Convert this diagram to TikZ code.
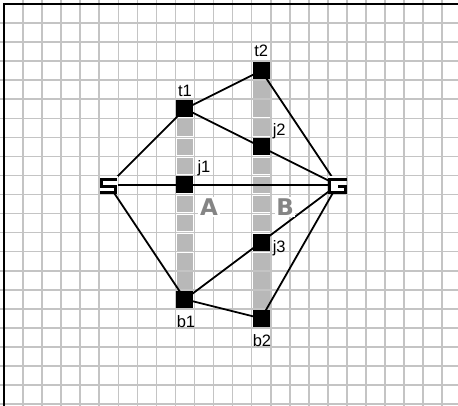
\documentclass[tikz,border=0pt]{standalone}
\usepackage{fontspec}
\setmainfont{Liberation Sans}
\newfontfamily\blockfont{DejaVu Sans}
\pgfdeclarelayer{bg}
\pgfsetlayers{bg,main}
\definecolor{gridgrey}{HTML}{C4C4C4}
\definecolor{cellgrey}{HTML}{B8B8B8}
\definecolor{lettergrey}{HTML}{858585}
\begin{document}
\begin{tikzpicture}[x=19.05pt,y=-19.05pt,
  gridline/.style={draw=gridgrey,line width=1.6pt},
  cellbox/.style={fill=cellgrey},
  junction/.style={rectangle,fill=black,inner sep=0pt,minimum size=17pt},
  endpoint/.style={rectangle,fill=white,inner sep=0pt,minimum size=18pt},
  glyph/.style={line width=3.2pt,line cap=butt,line join=miter},
  edge/.style={draw=black,line width=1.8pt},
  lbl/.style={font=\fontsize{16.5}{17}\selectfont,inner sep=0pt},
  region/.style={font=\blockfont\bfseries\fontsize{23}{23}\selectfont,inner sep=1.6pt,text=lettergrey,fill=white}]
\useasboundingbox (-0.21,-0.21) rectangle (23.83,21.10);

% nodes
\node[endpoint] (S) at (5.5,9.5) {};
\node[endpoint] (G) at (17.5,9.5) {};
\node[junction] (t1) at (9.5,5.5) {};
\node[junction] (j1) at (9.5,9.5) {};
\node[junction] (b1) at (9.5,15.5) {};
\node[junction] (t2) at (13.5,3.5) {};
\node[junction] (j2) at (13.5,7.5) {};
\node[junction] (j3) at (13.5,12.5) {};
\node[junction] (b2) at (13.5,16.5) {};

% glyphs S and G
\begin{scope}[shift={(S.center)},x=1pt,y=-1pt]
  \draw[glyph] (8.6,-5.4) -- (-7.0,-5.4) -- (-7.0,1.3) -- (6.8,1.3) -- (6.8,7.8) -- (-8.6,7.8);
\end{scope}
\begin{scope}[shift={(G.center)},x=1pt,y=-1pt]
  \draw[glyph] (9.9,-5.4) -- (-8.1,-5.4) -- (-8.1,7.8) -- (8.3,7.8) -- (8.3,1.3) -- (0.6,1.3);
\end{scope}

% labels
\node[lbl,anchor=base] (lt1) at (9.5,4.88) {t1};
\node[lbl,anchor=base] (lt2) at (13.5,2.78) {t2};
\node[lbl,anchor=base west] (lj1) at (10.15,8.82) {j1};
\node[lbl,anchor=base west] (lj2) at (14.1,6.88) {j2};
\node[lbl,anchor=base west] (lj3) at (14.1,13.02) {j3};
\node[lbl,anchor=base] (lb1) at (9.55,17.0) {b1};
\node[lbl,anchor=base] (lb2) at (13.54,18.0) {b2};

% region letters
\node[region] (A) at (10.76,10.66) {A};
\node[region] (B) at (14.75,10.66) {B};

\begin{pgfonlayer}{bg}
  \fill[white] (-0.21,-0.21) rectangle (23.83,21.10);
  \foreach \i in {1,...,23} \draw[gridline] (\i,-0.21) -- (\i,21.10);
  \foreach \j in {1,...,21} \draw[gridline] (-0.21,\j) -- (23.83,\j);
  \draw[black,line width=1.6pt] (0,21.10) -- (0,0) -- (23.83,0);
  \foreach \r in {6,7,8,10,11,12,13,14}
    \fill[cellbox] (9.06,\r+0.06) rectangle (9.94,\r+0.94);
  \foreach \r in {4,5,6,8,9,10,11,13,14,15}
    \fill[cellbox] (13.06,\r+0.06) rectangle (13.94,\r+0.94);
  \draw[edge] (S.center) -- (t1.center);
  \draw[edge] (S.center) -- (G.center);
  \draw[edge] (S.center) -- (b1.center);
  \draw[edge] (t1.center) -- (t2.center);
  \draw[edge] (t1.center) -- (G.center);
  \draw[edge] (t2.center) -- (G.center);
  \draw[edge] (G.center) -- (b1.center);
  \draw[edge] (G.center) -- (b2.center);
  \draw[edge] (b1.center) -- (b2.center);
\end{pgfonlayer}
\end{tikzpicture}
\end{document}
